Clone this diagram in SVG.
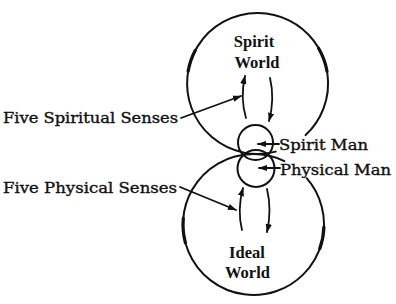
<svg xmlns="http://www.w3.org/2000/svg" width="396" height="304" viewBox="0 0 396 304">
<defs>
<style>
.ln{fill:none;stroke:#111;stroke-width:2;stroke-linecap:round}
.tk{fill:none;stroke:#111;stroke-width:3.2;stroke-linecap:round}
.ar{fill:none;stroke:#111;stroke-width:1.8;stroke-linecap:round}
.ttl{font-family:"Liberation Serif",serif;font-weight:bold;font-size:16.5px;fill:#111;text-anchor:middle}
.lbl{font-family:"DejaVu Serif",serif;font-size:14px;fill:#111;stroke:#111;stroke-width:0.35}
</style>
<marker id="ah" viewBox="0 0 10 10" refX="9" refY="5" markerWidth="9" markerHeight="9" markerUnits="userSpaceOnUse" orient="auto">
<path d="M0,1.5 L10,5 L0,8.5 Z" fill="#111"/>
</marker>
</defs>
<rect width="396" height="304" fill="#fff"/>
<g id="spirit-world">
<path class="ln" d="M275.7,151.6 A70.5,70.5 0 1 1 305.6,135.1"/>
<path class="tk" d="M188.1,71.2 A70.5,70.5 0 0 1 195.2,50.4"/>
<path class="tk" d="M318.6,48.3 A70.5,70.5 0 0 1 327,71.2"/>
<text class="ttl" x="254" y="47">Spirit</text>
<text class="ttl" x="257" y="68">World</text>
</g>
<g id="ideal-world">
<path class="ln" d="M306.7,178.2 A70.5,70.5 0 1 1 284.4,161.1"/>
<path class="tk" d="M185.4,242.8 A70.5,70.5 0 0 1 183.3,218.4"/>
<path class="tk" d="M323.9,227 A70.5,70.5 0 0 1 319.8,248.6"/>
<text class="ttl" x="247" y="258">Ideal</text>
<text class="ttl" x="247.5" y="278">World</text>
</g>
<g id="spirit-man">
<circle class="ln" cx="255.5" cy="142.5" r="17.5"/>
<text class="lbl" x="279" y="150" textLength="89" lengthAdjust="spacingAndGlyphs">Spirit Man</text>
</g>
<g id="physical-man">
<circle class="ln" cx="256" cy="168.5" r="18.5"/>
<text class="lbl" x="280" y="175" textLength="111" lengthAdjust="spacingAndGlyphs">Physical Man</text>
</g>
<g id="five-spiritual-senses">
<text class="lbl" x="3" y="123" textLength="175" lengthAdjust="spacingAndGlyphs">Five Spiritual Senses</text>
</g>
<g id="five-physical-senses">
<text class="lbl" x="3" y="193" textLength="174" lengthAdjust="spacingAndGlyphs">Five Physical Senses</text>
</g>
<g id="connectors">
<path class="ar" marker-end="url(#ah)" d="M246,118 Q240,98 245,76"/>
<path class="ar" marker-end="url(#ah)" d="M270,78 Q275,99 269,121"/>
<path class="ar" marker-end="url(#ah)" d="M242,230 Q237,210 243,188"/>
<path class="ar" marker-end="url(#ah)" d="M267,189 Q272,210 267,232"/>
<path class="ar" marker-end="url(#ah)" d="M181,118 L241,96"/>
<path class="ar" marker-end="url(#ah)" d="M180,187 L236,210"/>
<path class="ar" marker-end="url(#ah)" d="M279,144 L258,144"/>
<path class="ar" marker-end="url(#ah)" d="M280,168 L259,168"/>
</g>
</svg>
